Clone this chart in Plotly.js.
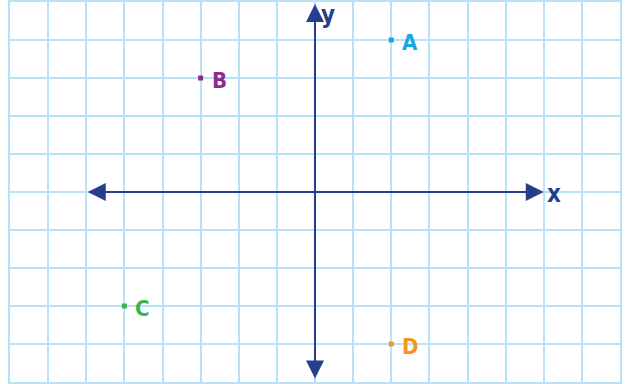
<!DOCTYPE html>
<html>
<head>
<meta charset="utf-8">
<script src="https://cdn.plot.ly/plotly-3.0.1.min.js"></script>
<style>html,body{margin:0;padding:0;background:#fff;}#chart{width:629px;height:384px;}</style>
</head>
<body>
<div id="chart"></div>
<script>
// Data
const pointNames = ['A', 'B', 'C', 'D'];
const pointX = [2, -3, -5, 2];
const pointY = [4, 3, -3, -4];
const pointColors = ['#14a9e1', '#8e2b8e', '#3bb44a', '#f7941d'];
const xRange = [-8, 8];
const yRange = [-5, 5];
const xAxisExtent = [-6, 6];
const yAxisExtent = [-4.95, 4.95];

const axisColor = '#253f8e';
const gridColor = '#b8e3f7';
const labelFont = 'DejaVu Sans Condensed';

const traces = [
  {
    type: 'scatter', mode: 'lines',
    x: [xAxisExtent[0] + 0.2, xAxisExtent[1] - 0.2], y: [0, 0],
    line: {color: axisColor, width: 2}, hoverinfo: 'skip', showlegend: false
  },
  {
    type: 'scatter', mode: 'lines',
    x: [0, 0], y: [yAxisExtent[0] + 0.2, yAxisExtent[1] - 0.2],
    line: {color: axisColor, width: 2}, hoverinfo: 'skip', showlegend: false
  },
  {
    type: 'scatter',
    mode: 'markers',
    x: pointX,
    y: pointY,
    marker: {symbol: 'square', size: 5, color: pointColors},
    hoverinfo: 'skip',
    showlegend: false
  }
];

const annotations = [];
// axis arrows (double-headed, drawn through the axis scales)
function arrow(x0, y0, x1, y1) {
  annotations.push({
    x: x1, y: y1, ax: x0, ay: y0,
    xref: 'x', yref: 'y', axref: 'x', ayref: 'y',
    showarrow: true, arrowhead: 2, startarrowhead: 2, arrowside: 'end+start',
    arrowsize: 1.8, startarrowsize: 1.8, arrowwidth: 2,
    arrowcolor: axisColor, text: ''
  });
}
arrow(xAxisExtent[0], 0, xAxisExtent[1], 0);
arrow(0, yAxisExtent[0], 0, yAxisExtent[1]);

annotations.push({
  x: xAxisExtent[1], y: 0, xref: 'x', yref: 'y', text: '<b>x</b>',
  showarrow: false, xanchor: 'left', yanchor: 'middle', xshift: 1, yshift: -2,
  font: {family: labelFont, size: 24, color: axisColor}
});
annotations.push({
  x: 0, y: yRange[1], xref: 'x', yref: 'y', text: '<b>y</b>',
  showarrow: false, xanchor: 'left', yanchor: 'top', xshift: 4, yshift: 3,
  font: {family: labelFont, size: 24, color: axisColor}
});

pointNames.forEach((n, i) => {
  annotations.push({
    x: pointX[i], y: pointY[i], xref: 'x', yref: 'y', text: '<b>' + n + '</b>',
    showarrow: false, xanchor: 'left', yanchor: 'middle', xshift: 9, yshift: -2,
    font: {family: labelFont, size: 22, color: pointColors[i]}
  });
});

const axisCommon = {
  dtick: 1, tick0: 0,
  showgrid: true, gridcolor: gridColor, gridwidth: 2,
  zeroline: false, showticklabels: false, ticks: '',
  showline: true, linecolor: gridColor, linewidth: 2, mirror: true,
  fixedrange: true
};

const layout = {
  width: 629, height: 384,
  margin: {l: 10, r: 9, t: 2, b: 2, pad: 0},
  paper_bgcolor: '#ffffff', plot_bgcolor: '#ffffff',
  xaxis: Object.assign({range: xRange}, axisCommon),
  yaxis: Object.assign({range: yRange}, axisCommon),
  annotations: annotations,
  showlegend: false
};

Plotly.newPlot('chart', traces, layout, {displayModeBar: false, staticPlot: true});
</script>
</body>
</html>
